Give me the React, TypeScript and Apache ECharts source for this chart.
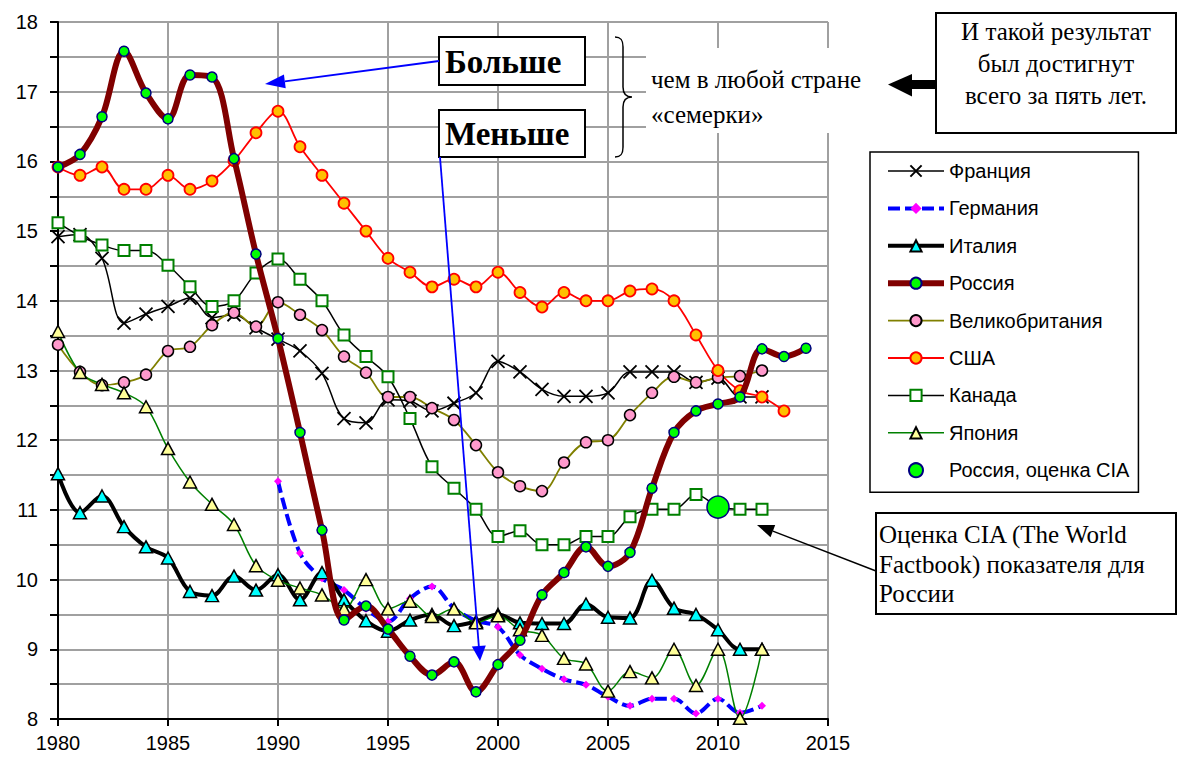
import React, { useEffect, useRef } from "react";
import * as echarts from "echarts";

const years = [1980, 1981, 1982, 1983, 1984, 1985, 1986, 1987, 1988, 1989, 1990, 1991, 1992, 1993, 1994, 1995, 1996, 1997, 1998, 1999, 2000, 2001, 2002, 2003, 2004, 2005, 2006, 2007, 2008, 2009, 2010, 2011, 2012, 2013, 2014];

const franceVals = [14.92, 14.95, 14.61, 13.68, 13.81, 13.92, 14.04, 13.76, 13.80, 13.61, 13.45, 13.28, 12.96, 12.31, 12.25, 12.58, 12.56, 12.42, 12.53, 12.68, 13.13, 12.98, 12.73, 12.63, 12.63, 12.68, 12.98, 12.98, 12.98, 12.83, 12.89, 12.62, 12.62];
const germanyStart = 1990;
const germanyVals = [11.41, 10.38, 10.02, 9.85, 9.58, 9.40, 9.73, 9.90, 9.59, 9.41, 9.32, 8.92, 8.72, 8.57, 8.49, 8.32, 8.19, 8.29, 8.29, 8.08, 8.29, 8.09, 8.19];
const italyVals = [11.52, 10.96, 11.20, 10.76, 10.47, 10.31, 9.83, 9.77, 10.05, 9.85, 10.07, 9.71, 10.10, 9.71, 9.41, 9.26, 9.42, 9.50, 9.34, 9.40, 9.50, 9.38, 9.37, 9.37, 9.65, 9.46, 9.45, 9.99, 9.59, 9.50, 9.28, 9.00, 9.00];
const russiaVals = [15.92, 16.10, 16.64, 17.58, 16.98, 16.61, 17.24, 17.21, 16.04, 14.67, 13.46, 12.11, 10.71, 9.42, 9.62, 9.29, 8.90, 8.63, 8.82, 8.39, 8.78, 9.13, 9.78, 10.10, 10.47, 10.19, 10.39, 11.31, 12.11, 12.42, 12.52, 12.62, 13.31, 13.20, 13.32];
const ukVals = [13.37, 12.98, 12.79, 12.83, 12.94, 13.28, 13.34, 13.65, 13.83, 13.63, 13.98, 13.80, 13.58, 13.20, 12.97, 12.62, 12.62, 12.46, 12.29, 11.93, 11.54, 11.34, 11.27, 11.68, 11.97, 12.00, 12.36, 12.68, 12.91, 12.83, 12.90, 12.92, 13.00];
const usaVals = [15.92, 15.80, 15.92, 15.60, 15.60, 15.80, 15.60, 15.72, 16.01, 16.41, 16.72, 16.21, 15.80, 15.40, 15.00, 14.61, 14.41, 14.20, 14.31, 14.20, 14.41, 14.12, 13.91, 14.12, 14.00, 14.00, 14.14, 14.17, 14.00, 13.51, 13.00, 12.71, 12.62, 12.42];
const canadaVals = [15.12, 14.93, 14.80, 14.72, 14.72, 14.51, 14.20, 13.92, 14.00, 14.40, 14.60, 14.31, 14.00, 13.51, 13.20, 12.91, 12.31, 11.62, 11.31, 11.01, 10.62, 10.70, 10.50, 10.50, 10.62, 10.62, 10.90, 11.01, 11.01, 11.22, 11.05, 11.01, 11.01];
const japanVals = [13.56, 12.97, 12.80, 12.68, 12.48, 11.88, 11.40, 11.08, 10.79, 10.20, 9.99, 9.88, 9.78, 9.58, 10.00, 9.58, 9.69, 9.47, 9.58, 9.38, 9.48, 9.28, 9.20, 8.87, 8.79, 8.40, 8.68, 8.59, 9.00, 8.48, 9.00, 8.01, 9.00];
const ciaYear = 2010;
const ciaVal = 11.04;

const seriesNames = ["Франция", "Германия", "Италия", "Россия", "Великобритания", "США", "Канада", "Япония", "Россия, оценка CIA"];
const yTickLabels = ["8", "9", "10", "11", "12", "13", "14", "15", "16", "17", "18"];

const moreText = "Больше";
const lessText = "Меньше";
const braceLines = ["чем в любой стране", "«семерки»"];
const resultLines = ["И такой результат", "был достигнут", "всего за пять лет."];
const ciaLines = ["Оценка CIA (The World", "Factbook) показателя для", "России"];

const SANS = "'Liberation Sans', Arial, sans-serif";
const SERIF = "'Liberation Serif', 'Times New Roman', serif";

function pairs(start: number, vals: number[]) {
  const i0 = years.indexOf(start);
  return vals.map((v, i) => [years[i0 + i], v]);
}

function arrow(x1: number, y1: number, x2: number, y2: number, color: string, lw: number, len: number, hw: number) {
  const dx = x2 - x1, dy = y2 - y1;
  const L = Math.hypot(dx, dy);
  const ux = dx / L, uy = dy / L;
  const bx = x2 - ux * len, by = y2 - uy * len;
  return [
    { type: "line", z: 100, shape: { x1, y1, x2: bx, y2: by }, style: { stroke: color, lineWidth: lw } },
    {
      type: "polygon", z: 100,
      shape: { points: [[x2, y2], [bx - uy * hw, by + ux * hw], [bx + uy * hw, by - ux * hw]] },
      style: { fill: color },
    },
  ];
}

const BRACE_D = "M615,37 C621,37 623,40 623,47 L623,87 C623,93 626,97 632,97 C626,97 623,101 623,107 L623,147 C623,154 621,157 615,157";
let braceRegistered = false;

export default function App() {
  const ref = useRef<HTMLDivElement>(null);
  useEffect(() => {
    if (!braceRegistered) {
      echarts.graphic.registerShape("brace", echarts.graphic.extendPath(BRACE_D, {}));
      braceRegistered = true;
    }
    const chart = echarts.init(ref.current!, null, { renderer: "svg" });
    const smooth = 0.35;
    const legendWidths = [1.5, 4, 4, 6, 1.8, 1.8, 1.5, 1.5, 0];
    const option: any = {
      animation: false,
      backgroundColor: "#fff",
      grid: { left: 58, top: 22, width: 770, height: 697, containLabel: false },
      xAxis: {
        type: "value", min: 1980, max: 2015, interval: 5,
        axisLine: { show: true, onZero: false, lineStyle: { color: "#000", width: 2 } },
        axisTick: { show: true, length: 7, lineStyle: { color: "#000", width: 2 } },
        axisLabel: { color: "#000", fontSize: 20, fontFamily: SANS, margin: 14, formatter: (v: number) => String(v) },
        splitLine: { show: true, lineStyle: { color: "#a0a0a0", width: 2 } },
      },
      yAxis: {
        type: "value", min: 8, max: 18, interval: 0.5,
        axisLine: { show: true, onZero: false, lineStyle: { color: "#000", width: 2 } },
        axisTick: { show: true, length: 8, lineStyle: { color: "#000", width: 2 } },
        axisLabel: {
          color: "#000", fontSize: 20, fontFamily: SANS, margin: 20,
          formatter: (v: number) => (yTickLabels.includes(String(v)) ? String(v) : ""),
        },
        splitLine: { show: true, lineStyle: { color: "#a0a0a0", width: 2 } },
      },
      legend: {
        orient: "vertical", left: 870, top: 152,
        padding: [9, 9, 12, 15],
        itemWidth: 56, itemHeight: 14, itemGap: 17.4,
        backgroundColor: "#fff", borderColor: "#000", borderWidth: 1.5,
        textStyle: { fontSize: 20, fontFamily: SANS, color: "#000", lineHeight: 20 },
        data: seriesNames.map((n, i) => (legendWidths[i] > 0 ? { name: n, lineStyle: { width: legendWidths[i] } } : { name: n })),
      },
      series: [
        {
          name: seriesNames[0], type: "line", smooth, data: pairs(1980, franceVals),
          symbol: "path://M0,0L10,10M10,0L0,10", symbolSize: 13,
          lineStyle: { color: "#000", width: 1.5 },
          itemStyle: { color: "transparent", borderColor: "#000", borderWidth: 1.8 },
          z: 3,
        },
        {
          name: seriesNames[1], type: "line", smooth, data: pairs(germanyStart, germanyVals),
          symbol: "diamond", symbolSize: 8,
          lineStyle: { color: "#0000ff", width: 4, type: [12, 5] },
          itemStyle: { color: "#ff00ff", borderColor: "#ff00ff", borderWidth: 0 },
          z: 3,
        },
        {
          name: seriesNames[2], type: "line", smooth, data: pairs(1980, italyVals),
          symbol: "triangle", symbolSize: [13, 12],
          lineStyle: { color: "#000", width: 4 },
          itemStyle: { color: "#00ffff", borderColor: "#000", borderWidth: 1.5 },
          z: 3,
        },
        {
          name: seriesNames[3], type: "line", smooth, data: pairs(1980, russiaVals),
          symbol: "circle", symbolSize: 10,
          lineStyle: { color: "#800000", width: 6 },
          itemStyle: { color: "#00ff00", borderColor: "#000080", borderWidth: 1.5 },
          z: 4,
        },
        {
          name: seriesNames[4], type: "line", smooth, data: pairs(1980, ukVals),
          symbol: "circle", symbolSize: 11,
          lineStyle: { color: "#808000", width: 1.8 },
          itemStyle: { color: "#ff99cc", borderColor: "#000", borderWidth: 1.5 },
          z: 3,
        },
        {
          name: seriesNames[5], type: "line", smooth, data: pairs(1980, usaVals),
          symbol: "circle", symbolSize: 11,
          lineStyle: { color: "#ff0000", width: 1.8 },
          itemStyle: { color: "#ffc000", borderColor: "#ff0000", borderWidth: 1.8 },
          z: 3,
        },
        {
          name: seriesNames[6], type: "line", smooth, data: pairs(1980, canadaVals),
          symbol: "rect", symbolSize: 11,
          lineStyle: { color: "#000", width: 1.5 },
          itemStyle: { color: "#fff", borderColor: "#008000", borderWidth: 2 },
          z: 3,
        },
        {
          name: seriesNames[7], type: "line", smooth, data: pairs(1980, japanVals),
          symbol: "triangle", symbolSize: [13, 12],
          lineStyle: { color: "#008000", width: 1.5 },
          itemStyle: { color: "#ffff99", borderColor: "#000", borderWidth: 1.5 },
          z: 3,
        },
        {
          name: seriesNames[8], type: "scatter", data: [[ciaYear, ciaVal]],
          symbol: "circle", symbolSize: 22,
          itemStyle: { color: "#00ff00", borderColor: "#000080", borderWidth: 1.5, opacity: 1 },
          z: 5,
        },
      ],
      graphic: {
        elements: [
          { type: "rect", z: 100, shape: { x: 439, y: 37, width: 146, height: 48 }, style: { fill: "#fff", stroke: "#000", lineWidth: 2 } },
          { type: "text", z: 101, x: 445, y: 62, style: { text: moreText, fontSize: 33, fontWeight: "bold", fontFamily: SERIF, fill: "#000", align: "left", verticalAlign: "middle", textAlign: "left", textVerticalAlign: "middle" } },
          { type: "rect", z: 100, shape: { x: 439, y: 110, width: 146, height: 47 }, style: { fill: "#fff", stroke: "#000", lineWidth: 2 } },
          { type: "text", z: 101, x: 445, y: 134, style: { text: lessText, fontSize: 33, fontWeight: "bold", fontFamily: SERIF, fill: "#000", align: "left", verticalAlign: "middle", textAlign: "left", textVerticalAlign: "middle" } },
          ...arrow(439, 61, 265, 84, "#0000ff", 1.8, 20, 7),
          ...arrow(440, 157, 480, 661, "#0000ff", 1.8, 15, 7),
          { type: "brace", z: 100, x: 0, y: 0, style: { stroke: "#000", fill: "none", lineWidth: 1.5 } },
          { type: "rect", z: 99, shape: { x: 646, y: 48, width: 236, height: 85 }, style: { fill: "#fff", stroke: "none" } },
          { type: "text", z: 101, x: 651, y: 97, style: { text: braceLines.join("\n"), fontSize: 25, lineHeight: 35, fontFamily: SERIF, fill: "#000", align: "left", verticalAlign: "middle", textAlign: "left", textVerticalAlign: "middle" } },
          { type: "rect", z: 100, shape: { x: 910, y: 80, width: 27, height: 9 }, style: { fill: "#000" } },
          { type: "polygon", z: 100, shape: { points: [[888, 84.5], [912, 74], [912, 96.5]] }, style: { fill: "#000" } },
          { type: "rect", z: 100, shape: { x: 936, y: 13, width: 240, height: 120 }, style: { fill: "#fff", stroke: "#000", lineWidth: 2 } },
          { type: "text", z: 101, x: 1056, y: 63.5, style: { text: resultLines.join("\n"), fontSize: 25, lineHeight: 31.7, fontFamily: SERIF, fill: "#000", align: "center", verticalAlign: "middle", textAlign: "center", textVerticalAlign: "middle" } },
          { type: "rect", z: 100, shape: { x: 876, y: 513, width: 300, height: 101 }, style: { fill: "#fff", stroke: "#000", lineWidth: 2 } },
          { type: "text", z: 101, x: 879, y: 564, style: { text: ciaLines.join("\n"), fontSize: 25, lineHeight: 29.5, fontFamily: SERIF, fill: "#000", align: "left", verticalAlign: "middle", textAlign: "left", textVerticalAlign: "middle" } },
          ...arrow(876, 571, 757, 525, "#000", 1.5, 17, 6.5),
        ],
      },
    };
    chart.setOption(option);
    return () => chart.dispose();
  }, []);
  return <div ref={ref} style={{ position: "absolute", left: 0, top: 0, width: 1186, height: 758, background: "#fff" }} />;
}
